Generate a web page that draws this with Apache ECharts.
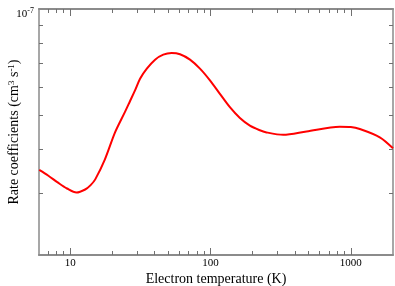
<!DOCTYPE html>
<html><head><meta charset="utf-8">
<script src="https://cdn.jsdelivr.net/npm/echarts@6/dist/echarts.min.js"></script>
<style>html,body{margin:0;padding:0;background:#fff}#c{width:395px;height:286px}</style>
</head><body><div id="c"></div>
<script>
const temperature = [6.02, 7, 8.2, 9.5, 11.1, 12.8, 14, 15.1, 17.7, 20.9, 24.6, 26.7, 29, 31.5, 35.2, 40.3, 46.1, 52.9, 60.7, 71.5, 84.2, 99.2, 116.8, 137.6, 162.2, 191.1, 222.5, 251, 330, 484, 835, 1000, 1160, 1610, 2000];
const rate = [3.49e-8, 3.36e-8, 3.21e-8, 3.09e-8, 3.01e-8, 3.07e-8, 3.16e-8, 3.28e-8, 3.74e-8, 4.46e-8, 5.10e-8, 5.47e-8, 5.87e-8, 6.34e-8, 6.77e-8, 7.18e-8, 7.42e-8, 7.50e-8, 7.44e-8, 7.18e-8, 6.77e-8, 6.27e-8, 5.74e-8, 5.26e-8, 4.90e-8, 4.66e-8, 4.53e-8, 4.46e-8, 4.39e-8, 4.49e-8, 4.63e-8, 4.62e-8, 4.56e-8, 4.32e-8, 4.02e-8];
const xMin = 6, xMax = 2000;
const yMin = 2e-8, yMax = 1e-7;
const xMajorTicks = [10, 100, 1000];
const xMinorTicks = [7, 8, 9, 20, 30, 40, 50, 60, 70, 80, 90, 200, 300, 400, 500, 600, 700, 800, 900];
const yMinorTicks = [3e-8, 4e-8, 5e-8, 6e-8, 7e-8, 8e-8, 9e-8];
const yLabelValues = [1e-7];

const FONT = 'Liberation Serif';
const AXIS_COLOR = '#8a8a8a';
const TICK_COLOR = '#707070';
const L = Math.log10;
const chart = echarts.init(document.getElementById('c'), null, {renderer: 'canvas'});

const logX = (pos, labels) => ({
  type: 'log', logBase: 10, min: xMin, max: xMax, position: pos, gridIndex: 0,
  axisLine: {show: true, onZero: false, lineStyle: {color: AXIS_COLOR, width: 1.5}},
  axisTick: {show: false},
  axisLabel: labels ? {show: true, color: '#000', fontFamily: FONT, fontSize: 11, margin: 3,
    showMinLabel: false, showMaxLabel: false, formatter: v => String(v)} : {show: false},
  splitLine: {show: false}
});
const tickX = (pos, values, len, grid) => ({
  type: 'value', min: L(xMin), max: L(xMax), position: pos, gridIndex: grid,
  axisLine: {show: true, lineStyle: {color: AXIS_COLOR, width: 1.5}},
  axisTick: {show: true, inside: true, length: len, customValues: values.map(L), lineStyle: {color: TICK_COLOR, width: 1}},
  axisLabel: {show: false}, splitLine: {show: false}
});
const logY = (pos) => ({
  type: 'log', logBase: 10, min: yMin, max: yMax, position: pos, gridIndex: 0,
  axisLine: {show: true, onZero: false, lineStyle: {color: AXIS_COLOR, width: 1.5}},
  axisTick: {show: false}, axisLabel: {show: false}, splitLine: {show: false}
});
const tickY = (pos, labels) => ({
  type: 'value', min: L(yMin), max: L(yMax), position: pos, gridIndex: 1,
  axisLine: {show: false, onZero: false},
  axisTick: {show: true, inside: true, length: 4, customValues: yMinorTicks.map(L), lineStyle: {color: TICK_COLOR, width: 1}},
  axisLabel: labels ? {
    show: true, customValues: yLabelValues.map(L), margin: 5, padding: [8, 0, 0, 0],
    formatter: v => '{b|10}{s|' + Math.round(v) + '}',
    rich: {
      b: {fontFamily: FONT, fontSize: 11, color: '#000', verticalAlign: 'bottom'},
      s: {fontFamily: FONT, fontSize: 8, color: '#000', verticalAlign: 'bottom', padding: [0, 0, 5, 0]}
    }
  } : {show: false},
  splitLine: {show: false}
});

const x0 = logX('bottom', true);
x0.name = 'Electron temperature (K)';
x0.nameLocation = 'middle';
x0.nameGap = 17;
x0.nameMoveOverlap = false;
x0.nameTextStyle = {color: '#000', fontFamily: FONT, fontSize: 14};

const y0 = logY('left');
y0.name = 'Rate coefficients (cm{s|3} s{s|-1})';
y0.nameLocation = 'middle';
y0.nameGap = 17;
y0.nameMoveOverlap = false;
y0.nameTextStyle = {
  color: '#000', fontFamily: FONT, fontSize: 14,
  rich: {s: {fontFamily: FONT, fontSize: 9, color: '#000', verticalAlign: 'top', padding: [0, 0, 6, 0]}}
};

const gridBox = {left: 39, right: 2, top: 9, bottom: 31, containLabel: false, outerBoundsMode: 'none'};
chart.setOption({
  animation: false,
  grid: [Object.assign({}, gridBox), Object.assign({}, gridBox), Object.assign({}, gridBox), Object.assign({}, gridBox)],
  xAxis: [
    x0, logX('top', false),
    tickX('bottom', xMinorTicks, 4, 2), tickX('top', xMinorTicks, 4, 2),
    tickX('bottom', xMajorTicks, 7, 3), tickX('top', xMajorTicks, 7, 3),
    {type: 'value', gridIndex: 1, show: false}
  ],
  yAxis: [
    y0, logY('right'), tickY('left', true), tickY('right', false),
    {type: 'value', gridIndex: 2, show: false, min: 0, max: 1},
    {type: 'value', gridIndex: 3, show: false, min: 0, max: 1}
  ],
  series: [{
    type: 'line', xAxisIndex: 0, yAxisIndex: 0,
    data: temperature.map((t, i) => [t, rate[i]]),
    smooth: 0.3, showSymbol: false, symbol: 'none',
    lineStyle: {color: '#ff0000', width: 2}
  }]
});
</script></body></html>
